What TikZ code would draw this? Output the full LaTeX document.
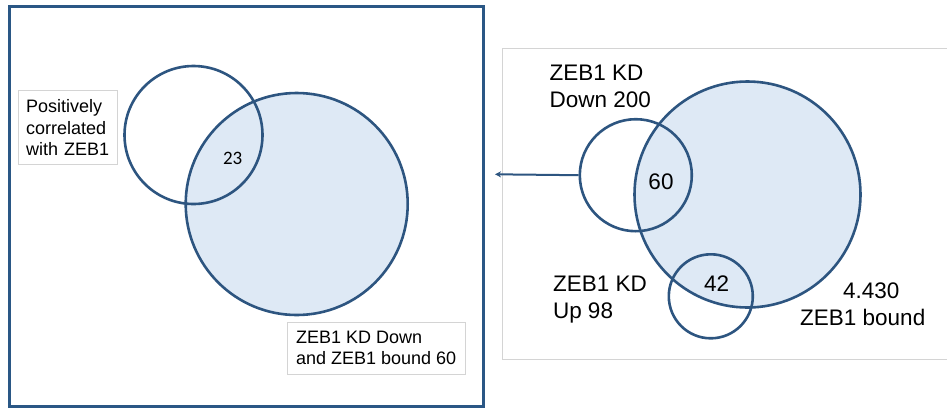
\documentclass[tikz,border=0pt]{standalone}
\usepackage{fontspec}
\setmainfont{Liberation Sans}
\newfontfamily\calib{Carlito}
\usetikzlibrary{arrows.meta}

\definecolor{vennline}{HTML}{2D5580}
\definecolor{vennfill}{HTML}{DEE9F5}
\definecolor{framecol}{HTML}{2A5785}
\definecolor{boxgray}{HTML}{D4D4D4}

\tikzset{
  setc/.style={circle, draw=vennline, line width=2.6pt, inner sep=0pt, minimum size=#1},
  note/.style={draw=boxgray, fill=white, line width=0.8pt, align=left, anchor=north west,
    inner xsep=8pt, inner ysep=9pt, font=\fontsize{18}{21.3}\selectfont},
  lbl/.style={align=left, anchor=north west, inner sep=0pt, font=\fontsize{22.5}{27.3}\selectfont},
  num/.style={inner sep=0pt, font=\fontsize{22.5}{27}\selectfont}
}

\begin{document}
\begin{tikzpicture}[x=1pt, y=-1pt]
\useasboundingbox (0,0) rectangle (947,408);

\draw[framecol, line width=3pt] (9,6.5) rectangle (483.5,406);
\draw[boxgray, line width=1pt] (948,48.3) -| (502.7,359.3) -- (948,359.3);

% left panel
\node[setc=222pt, fill=vennfill] (bndl) at (296.7,204) {};
\node[setc=138pt] (posc) at (193.5,135) {};
\node[inner sep=0pt, font=\calib\fontsize{19}{22}\selectfont] (n23) at (232.7,158.3) {23};
\node[note, text width=83.6pt] (posl) at (17.7,90.3) {Positively\\correlated\\with ZEB1};
\node[note, inner xsep=9pt] (bndt) at (286.7,321.7) {ZEB1 KD Down\\and ZEB1 bound 60};

% right panel
\node[setc=226pt, fill=vennfill] (bound) at (747.5,194.5) {};
\node[setc=112pt] (down) at (635.8,175.2) {};
\node[setc=84pt] (up) at (710.8,296.3) {};
\node[num] (n60) at (661,181.7) {60};
\node[num] (n42) at (716.7,283.3) {42};
\node[lbl] (downl) at (549.5,64.6) {ZEB1 KD\\Down 200};
\node[lbl] (upl) at (552.8,275.6) {ZEB1 KD\\Up 98};
\node[lbl] (boundl) at (800,282.2) {\hspace*{43pt}4.430\\ZEB1 bound};

\coordinate (tip) at (495,174.3);
\draw[vennline, line width=2pt, -{Stealth[length=6pt, width=6pt]}] (down.west) -- (tip);
\end{tikzpicture}
\end{document}
